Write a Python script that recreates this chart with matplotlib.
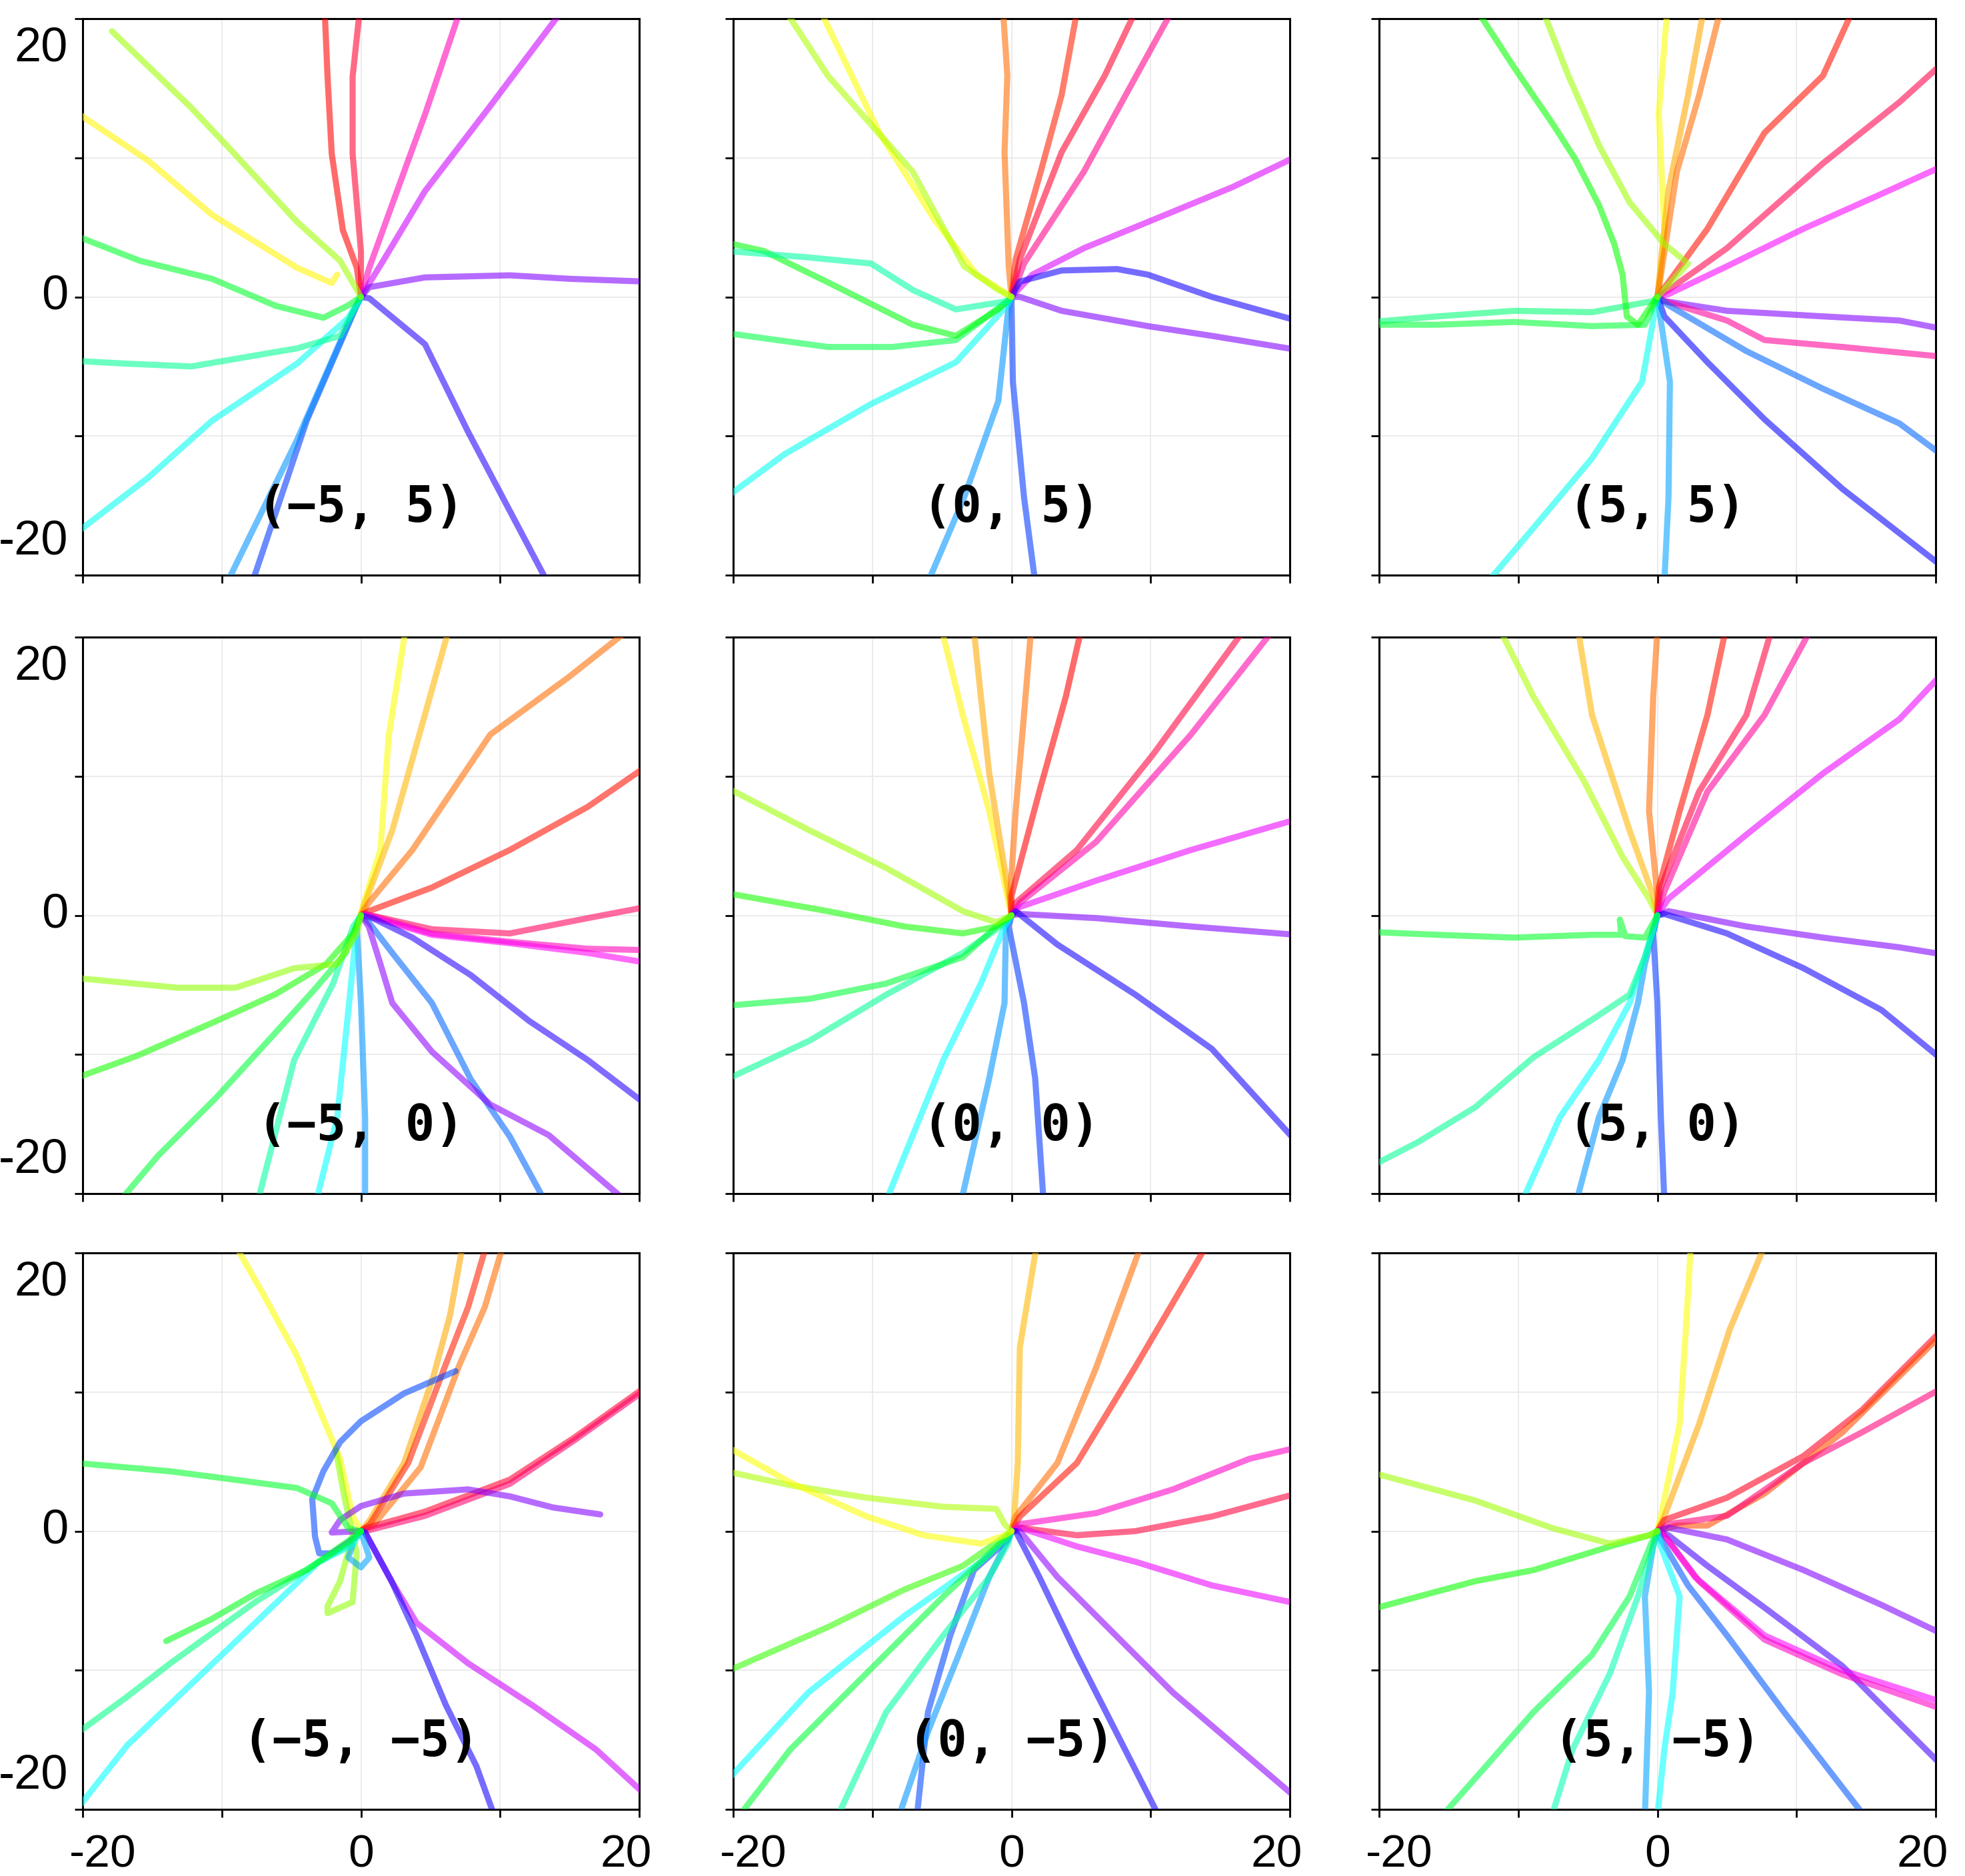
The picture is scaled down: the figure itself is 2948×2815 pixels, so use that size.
import matplotlib
matplotlib.use("Agg")
import matplotlib.pyplot as plt
from matplotlib.colors import hsv_to_rgb
from matplotlib.transforms import offset_copy

# ---------------- data (hue, [(x, y), ...]) per panel ----------------
panel_labels = ["(−5, 5)", "(0, 5)", "(5, 5)",
                "(−5, 0)", "(0, 0)", "(5, 0)",
                "(−5, −5)", "(0, −5)", "(5, −5)"]

tick_values = [-20, -10, 0, 10, 20]
x_tick_labels = ["-20", "0", "20"]
y_tick_labels = ["20", "0", "-20"]

tracks_m5_p5 = [
    (0.00, [(0, 0), (-0.3, 2.1), (-1.3, 4.8), (-2.1, 10.3), (-2.4, 15.8), (-2.6, 20.5)]),
    (0.97, [(0, 0), (0.0, 3.3), (-0.6, 10.3), (-0.6, 15.8), (-0.1, 20.5)]),
    (0.88, [(0, 0), (0.6, 2.1), (3.1, 9.0), (4.6, 13.1), (7.1, 20.5)]),
    (0.80, [(0, 0), (1.6, 2.6), (4.6, 7.6), (9.2, 13.6), (14.4, 20.5)]),
    (0.75, [(0, 0), (0.6, 0.7), (4.6, 1.4), (10.7, 1.55), (15.0, 1.3), (20.5, 1.1)]),
    (0.69, [(0, 0), (0.6, -0.1), (4.6, -3.4), (7.7, -9.7), (13.4, -20.5)]),
    (0.63, [(0, 0), (-0.3, -0.6), (-3.9, -8.9), (-7.8, -20.5)]),
    (0.57, [(0, 0), (-0.6, -1.2), (-4.6, -10.3), (-9.6, -20.5)]),
    (0.49, [(0, 0), (-0.9, -1.5), (-4.6, -4.8), (-10.7, -8.9), (-15.3, -13.0), (-20.5, -17.0)]),
    (0.43, [(0, 0), (-1.5, -2.8), (-4.6, -3.7), (-12.2, -5.0), (-16.8, -4.8), (-20.5, -4.6)]),
    (0.36, [(0, 0), (-0.9, -0.6), (-2.7, -1.5), (-6.1, -0.65), (-10.7, 1.3), (-15.9, 2.6), (-20.5, 4.4)]),
    (0.16, [(-1.7, 1.6), (-2.1, 1.0), (-4.6, 2.1), (-10.7, 5.9), (-15.3, 9.8), (-20.5, 13.3)]),
    (0.23, [(0, 0), (-1.5, 2.6), (-4.6, 5.4), (-9.1, 10.3), (-12.2, 13.6), (-17.9, 19.1)]),
]

tracks_0_p5 = [
    (0.07, [(0, 0), (-0.2, 2.2), (-0.5, 10.4), (-0.3, 15.9), (-0.6, 20.5)]),
    (0.02, [(0, 0), (0.3, 2.7), (2.1, 9.0), (3.6, 14.5), (4.7, 20.5)]),
    (0.97, [(0, 0), (0.6, 2.7), (3.6, 10.4), (6.7, 15.9), (8.9, 20.5)]),
    (0.91, [(0, 0), (0.9, 2.4), (5.2, 9.0), (8.2, 14.5), (11.5, 20.5)]),
    (0.81, [(0, 0), (1.5, 1.6), (5.2, 3.5), (11.3, 6.0), (15.9, 7.9), (20.5, 10.1)]),
    (0.68, [(0, 0), (0.6, 1.1), (3.6, 1.9), (7.6, 2.0), (9.8, 1.6), (14.4, 0.0), (20.5, -1.7)]),
    (0.75, [(0, 0), (0.6, 0.0), (3.6, -1.0), (9.8, -2.1), (14.4, -2.8), (20.5, -3.8)]),
    (0.63, [(0, 0), (0.0, -0.3), (0.1, -6.1), (0.9, -14.4), (1.7, -20.5)]),
    (0.57, [(0, 0), (-0.2, -0.6), (-0.95, -7.5), (-3.4, -14.4), (-6.0, -20.5)]),
    (0.49, [(0, 0), (-0.3, -0.6), (-4.0, -4.7), (-10.1, -7.7), (-16.3, -11.3), (-20.5, -14.4)]),
    (0.38, [(0, 0), (-0.3, -0.3), (-4.0, -3.1), (-8.6, -3.6), (-13.2, -3.6), (-20.5, -2.6)]),
    (0.34, [(0, 0), (-0.95, -0.9), (-4.0, -2.8), (-7.1, -2.0), (-13.2, 1.05), (-17.8, 3.3), (-20.5, 3.9)]),
    (0.44, [(0, 0), (-0.3, -0.3), (-4.0, -0.9), (-7.1, 0.5), (-10.1, 2.4), (-14.7, 2.85), (-20.5, 3.3)]),
    (0.17, [(0, 0), (-0.3, 0.2), (-2.5, 1.6), (-5.5, 5.5), (-9.5, 11.8), (-13.7, 20.5)]),
    (0.22, [(0, 0), (-0.95, 0.5), (-3.4, 2.2), (-7.1, 9.0), (-13.2, 15.9), (-16.2, 20.5)]),
]

tracks_p5_p5 = [
    (0.17, [(0, 0), (0.1, 0.5), (0.5, 4.9), (0.1, 13.2), (0.7, 20.5)]),
    (0.11, [(0, 0), (0.8, 7.7), (2.2, 14.5), (3.3, 20.5)]),
    (0.07, [(0, 0), (0.25, 1.6), (1.4, 9.0), (3.0, 14.5), (4.5, 20.5)]),
    (0.01, [(0, 0), (0.8, 1.05), (3.6, 4.9), (7.7, 11.8), (11.9, 15.9), (14.0, 20.5)]),
    (0.95, [(0, 0), (0.8, 0.5), (5.0, 3.5), (11.9, 9.6), (17.4, 14.0), (20.5, 16.8)]),
    (0.83, [(0, 0), (0.8, 0.2), (5.0, 2.2), (10.5, 4.9), (16.1, 7.4), (20.5, 9.4)]),
    (0.75, [(0, 0), (0.5, -0.3), (5.0, -1.0), (11.9, -1.4), (17.4, -1.7), (20.5, -2.3)]),
    (0.90, [(0, 0), (0.5, -0.3), (5.0, -1.7), (7.7, -3.1), (13.3, -3.6), (20.5, -4.3)]),
    (0.60, [(0, 0), (0.8, -0.6), (6.4, -3.9), (11.9, -6.6), (17.4, -9.1), (20.5, -11.4)]),
    (0.67, [(0, 0), (0.5, -1.4), (3.6, -4.7), (7.7, -8.8), (13.3, -13.8), (20.5, -19.4)]),
    (0.56, [(0, 0), (0.25, -1.7), (0.9, -6.1), (0.8, -14.4), (0.5, -20.5)]),
    (0.49, [(0, 0), (-0.3, -1.7), (-1.1, -6.1), (-4.7, -11.6), (-8.9, -16.6), (-12.2, -20.5)]),
    (0.41, [(0, 0), (-0.3, -0.3), (-4.7, -1.1), (-10.3, -1.0), (-15.8, -1.4), (-20.5, -1.8)]),
    (0.37, [(0, 0), (-0.9, -2.0), (-4.7, -2.1), (-10.3, -1.8), (-15.8, -2.0), (-20.5, -2.0)]),
    (0.33, [(0, 0), (-1.4, -2.0), (-2.2, -1.4), (-2.5, 1.6), (-3.1, 3.8), (-4.2, 6.6),
            (-5.9, 9.9), (-7.5, 12.4), (-10.3, 16.5), (-12.9, 20.5)]),
    (0.23, [(0, 0), (2.2, 2.4), (0.5, 3.8), (-2.0, 6.8), (-4.2, 10.9), (-6.4, 15.9), (-8.2, 20.5)]),
]

tracks_m5_0 = [
    (0.17, [(0, 0), (0.0, 0.2), (1.4, 4.7), (2.0, 12.9), (3.2, 20.5)]),
    (0.12, [(0, 0), (0.3, 0.9), (2.25, 6.1), (4.2, 13.0), (6.3, 20.5)]),
    (0.07, [(0, 0), (0.56, 0.9), (3.7, 4.7), (9.3, 13.0), (14.9, 17.1), (19.2, 20.5)]),
    (0.01, [(0, 0), (0.56, 0.3), (5.1, 2.0), (10.7, 4.7), (16.3, 7.8), (20.5, 10.7)]),
    (0.94, [(0, 0), (0.3, 0.1), (5.1, -1.0), (10.7, -1.3), (16.3, -0.2), (20.5, 0.6)]),
    (0.88, [(0, 0), (0.3, 0.1), (5.1, -1.3), (10.7, -1.9), (16.3, -2.4), (20.5, -2.5)]),
    (0.84, [(0, 0), (0.3, 0.0), (5.1, -1.4), (10.7, -2.0), (16.3, -2.7), (20.5, -3.4)]),
    (0.69, [(0, 0), (0.85, -0.2), (3.7, -1.6), (7.9, -4.3), (12.1, -7.6), (16.3, -10.4), (20.5, -13.6)]),
    (0.60, [(0, 0), (0.56, -0.5), (2.25, -2.7), (5.1, -6.3), (7.9, -11.8), (10.7, -15.9), (13.2, -20.5)]),
    (0.76, [(0, 0), (0.56, -0.8), (1.4, -3.5), (2.25, -6.3), (5.1, -9.8), (9.3, -13.6), (13.5, -15.8), (19.0, -20.5)]),
    (0.57, [(0, 0), (-0.3, -0.8), (0.0, -6.3), (0.3, -14.5), (0.3, -20.5)]),
    (0.50, [(0, 0), (-0.3, -0.8), (-0.85, -6.3), (-1.7, -14.5), (-3.2, -20.5)]),
    (0.44, [(0, 0), (-0.56, -0.8), (-2.0, -4.9), (-4.8, -10.4), (-7.4, -20.5)]),
    (0.37, [(0, 0), (-1.1, -2.7), (-3.4, -5.4), (-6.2, -8.5), (-10.4, -13.1), (-14.6, -17.3), (-17.3, -20.5)]),
    (0.32, [(0, 0), (-0.56, -1.3), (-2.5, -3.5), (-6.2, -5.7), (-10.4, -7.6), (-16.1, -10.1), (-20.5, -11.7)]),
    (0.24, [(0, 0), (-0.3, -1.3), (-1.7, -3.5), (-4.8, -3.8), (-9.0, -5.2), (-13.2, -5.2), (-20.5, -4.5)]),
]

tracks_0_0 = [
    (0.16, [(0, 0), (-0.2, 0.9), (-1.6, 7.5), (-3.5, 14.4), (-5.0, 20.5)]),
    (0.11, [(0, 0), (-0.1, 0.9), (-1.6, 10.2), (-2.2, 15.7), (-2.7, 20.5)]),
    (0.07, [(0, 0), (-0.1, 1.4), (0.3, 7.5), (0.9, 14.4), (1.4, 20.5)]),
    (0.00, [(0, 0), (0.0, 1.4), (2.0, 8.9), (3.9, 15.7), (5.0, 20.5)]),
    (0.96, [(0, 0), (0.3, 0.9), (4.7, 4.7), (10.2, 11.6), (16.7, 20.5)]),
    (0.89, [(0, 0), (0.6, 0.9), (6.1, 5.3), (12.9, 13.0), (18.8, 20.5)]),
    (0.82, [(0, 0), (0.6, 0.6), (6.1, 2.5), (12.9, 4.7), (20.5, 6.9)]),
    (0.75, [(0, 0), (0.6, 0.1), (6.1, -0.2), (12.9, -0.8), (20.5, -1.4)]),
    (0.68, [(0, 0), (0.3, 0.3), (3.3, -2.1), (8.9, -5.7), (14.4, -9.6), (20.5, -16.3)]),
    (0.63, [(0, 0), (-0.2, -0.8), (0.9, -6.3), (1.7, -11.7), (2.3, -20.5)]),
    (0.57, [(0, 0), (-0.4, -0.8), (-0.5, -6.3), (-1.6, -11.7), (-3.6, -20.5)]),
    (0.50, [(0, 0), (-0.5, -0.8), (-2.2, -4.9), (-4.9, -10.4), (-9.0, -20.5)]),
    (0.43, [(0, 0), (-0.8, -0.8), (-3.5, -2.7), (-9.0, -5.7), (-14.5, -9.0), (-20.5, -11.8)]),
    (0.37, [(0, 0), (-1.1, -0.8), (-3.5, -3.0), (-9.0, -4.9), (-14.5, -6.0), (-20.5, -6.5)]),
    (0.32, [(0, 0), (-1.1, -0.8), (-3.5, -1.3), (-7.7, -0.8), (-13.2, 0.3), (-20.5, 1.6)]),
    (0.23, [(0, 0), (-1.1, -0.5), (-3.5, 0.3), (-9.0, 3.4), (-14.5, 6.1), (-20.5, 9.2)]),
]

tracks_p5_0 = [
    (0.22, [(0, 0), (-0.6, 1.2), (-2.5, 4.2), (-5.3, 9.7), (-8.9, 15.7), (-11.3, 20.5)]),
    (0.12, [(0, 0), (-0.3, 1.4), (-2.0, 6.1), (-4.7, 14.4), (-5.7, 20.5)]),
    (0.07, [(0, 0), (0.0, 1.4), (-0.6, 7.5), (-0.3, 15.7), (0.0, 20.5)]),
    (0.01, [(0, 0), (0.1, 2.0), (1.6, 7.5), (3.6, 14.4), (4.9, 20.5)]),
    (0.96, [(0, 0), (0.25, 2.0), (3.0, 8.9), (6.4, 14.4), (8.2, 20.5)]),
    (0.90, [(0, 0), (0.5, 1.7), (3.6, 8.9), (7.7, 14.4), (11.0, 20.5)]),
    (0.82, [(0, 0), (0.8, 1.2), (6.4, 5.8), (11.9, 10.2), (17.4, 14.1), (20.5, 17.4)]),
    (0.75, [(0, 0), (0.8, 0.3), (6.4, -0.8), (11.9, -1.6), (17.4, -2.3), (20.5, -2.8)]),
    (0.68, [(0, 0), (0.5, 0.1), (5.0, -1.3), (10.5, -3.8), (16.1, -6.8), (20.5, -10.4)]),
    (0.63, [(0, 0), (-0.3, -1.3), (0.0, -6.3), (0.25, -14.5), (0.5, -20.5)]),
    (0.57, [(0, 0), (-0.9, -3.5), (-1.4, -6.3), (-2.5, -10.4), (-4.2, -14.5), (-5.8, -20.5)]),
    (0.50, [(0, 0), (-0.9, -3.0), (-2.0, -6.3), (-4.2, -10.4), (-7.0, -14.5), (-9.7, -20.5)]),
    (0.43, [(0, 0), (-0.9, -3.0), (-2.0, -5.7), (-4.7, -7.5), (-8.9, -10.2), (-13.1, -13.8),
            (-17.2, -16.3), (-20.5, -18.0)]),
    (0.36, [(0, 0), (-0.9, -1.6), (-2.3, -1.5), (-2.7, -0.3), (-2.6, -1.4), (-4.7, -1.4),
            (-10.3, -1.6), (-15.8, -1.4), (-20.5, -1.2)]),
]

tracks_m5_m5 = [
    (0.17, [(0, 0), (-0.6, 1.1), (-1.5, 5.2), (-4.6, 12.6), (-7.0, 17.0), (-9.0, 20.5)]),
    (0.24, [(-0.6, -0.4), (-1.5, -3.6), (-2.4, -5.4), (-2.4, -5.9), (-0.6, -5.1), (-0.3, -1.6),
            (-1.2, 2.5), (-1.8, 5.8)]),
    (0.11, [(0, 0), (0.65, 0.8), (3.1, 4.9), (5.2, 11.1), (6.4, 15.5), (7.3, 20.5)]),
    (0.02, [(0, 0), (0.65, 0.5), (3.4, 4.9), (6.1, 12.0), (7.7, 16.1), (9.0, 20.5)]),
    (0.07, [(0, 0), (0.95, 0.5), (4.3, 4.6), (7.1, 12.0), (8.9, 16.1), (10.2, 20.5)]),
    (0.97, [(0, 0), (0.3, 0.2), (4.6, 1.4), (10.7, 3.7), (15.3, 6.7), (20.5, 10.4)]),
    (0.93, [(0, 0), (0.3, 0.0), (4.6, 1.1), (10.7, 3.4), (15.3, 6.5), (20.5, 10.2)]),
    (0.75, [(0, 0), (-2.1, -0.1), (-1.5, 0.8), (0.0, 1.8), (3.1, 2.7), (7.7, 3.0), (10.7, 2.5),
            (13.8, 1.7), (17.2, 1.2)]),
    (0.80, [(0, 0), (0.3, -0.1), (2.2, -3.6), (4.0, -6.6), (7.7, -9.5), (12.3, -12.5), (16.9, -15.7), (20.5, -19.0)]),
    (0.68, [(0, 0), (0.3, -0.1), (2.2, -3.6), (4.0, -7.5), (6.1, -12.5), (8.3, -16.9), (9.6, -20.5)]),
    (0.62, [(0, 0), (-0.3, -0.4), (-2.1, -1.6), (-3.0, -1.6), (-3.3, -0.4), (-3.5, 2.3), (-2.7, 4.3),
            (-1.5, 6.4), (0.0, 7.9), (3.1, 9.9), (6.8, 11.5)]),
    (0.56, [(0, 0), (0.6, -1.9), (0.0, -2.6), (-0.9, -1.9), (-0.6, -1.0)]),
    (0.50, [(0, 0), (-0.6, -1.0), (-3.0, -2.2), (-7.6, -6.6), (-12.2, -11.0), (-16.8, -15.4), (-20.5, -20.1)]),
    (0.42, [(0, 0), (-0.9, -1.0), (-3.0, -2.2), (-7.6, -5.1), (-13.7, -9.5), (-16.8, -11.9), (-20.5, -14.6)]),
    (0.35, [(0, 0), (-0.9, -0.7), (-3.9, -2.8), (-7.6, -4.5), (-10.7, -6.3), (-14.0, -7.9)]),
    (0.36, [(0, 0), (-0.9, 0.2), (-2.1, 2.0), (-4.6, 3.1), (-9.1, 3.7), (-13.7, 4.3), (-20.5, 4.9)]),
]

tracks_0_m5 = [
    (0.12, [(0, 0), (0.2, 1.05), (0.45, 4.9), (0.6, 13.2), (1.8, 20.5)]),
    (0.07, [(0, 0), (0.3, 1.05), (3.3, 4.9), (6.1, 11.8), (9.3, 20.5)]),
    (0.01, [(0, 0), (0.6, 1.05), (4.7, 4.9), (8.9, 11.8), (14.0, 20.5)]),
    (0.87, [(0, 0), (0.6, 0.5), (6.1, 1.3), (11.6, 3.0), (17.1, 5.2), (20.5, 6.0)]),
    (0.96, [(0, 0), (0.6, 0.25), (4.7, -0.3), (8.9, 0.0), (14.4, 1.05), (20.5, 2.7)]),
    (0.82, [(0, 0), (0.6, 0.25), (4.7, -1.1), (8.9, -2.2), (14.4, -3.9), (20.5, -5.2)]),
    (0.76, [(0, 0), (0.6, 0.0), (3.3, -3.3), (6.1, -6.1), (11.6, -11.6), (20.5, -19.2)]),
    (0.68, [(0, 0), (0.3, 0.0), (2.0, -3.3), (4.7, -8.9), (7.5, -14.4), (10.6, -20.5)]),
    (0.62, [(0, 0), (-0.25, -0.6), (-2.7, -2.8), (-4.4, -7.5), (-6.0, -13.0), (-6.8, -20.5)]),
    (0.57, [(0, 0), (-0.25, -0.6), (-1.6, -3.3), (-3.8, -8.9), (-6.0, -14.4), (-8.1, -20.5)]),
    (0.50, [(0, 0), (-0.25, -0.3), (-2.2, -2.2), (-7.7, -6.1), (-14.6, -11.6), (-20.5, -18.0)]),
    (0.44, [(0, 0), (-0.25, -0.9), (-1.6, -3.3), (-4.9, -7.5), (-9.0, -13.0), (-12.5, -20.5)]),
    (0.37, [(0, 0), (-0.5, -0.6), (-4.9, -4.7), (-10.4, -10.2), (-15.9, -15.7), (-19.6, -20.5)]),
    (0.30, [(0, 0), (-0.8, -0.6), (-3.5, -2.5), (-7.7, -4.2), (-13.2, -6.9), (-20.5, -10.1)]),
    (0.22, [(0, 0), (-0.5, 0.5), (-1.1, 1.6), (-4.9, 1.75), (-10.4, 2.4), (-15.9, 3.3), (-20.5, 4.3)]),
    (0.17, [(0, 0), (-0.5, -0.3), (-2.2, -0.9), (-6.3, -0.3), (-10.4, 1.05), (-15.9, 3.5), (-20.5, 6.1)]),
]

tracks_p5_m5 = [
    (0.17, [(0, 0), (0.25, 1.05), (1.6, 7.7), (2.05, 14.5), (2.4, 20.5)]),
    (0.11, [(0, 0), (0.5, 1.05), (3.0, 7.7), (5.2, 14.5), (7.7, 20.5)]),
    (0.98, [(0, 0), (0.5, 0.8), (5.0, 2.4), (10.5, 5.4), (14.7, 8.7), (20.5, 14.5)]),
    (0.05, [(0, 0), (1.4, 0.4), (3.6, 0.4), (7.7, 2.7), (13.3, 7.1), (20.5, 14.2)]),
    (0.92, [(0, 0), (0.8, 0.5), (5.0, 1.1), (10.5, 4.9), (14.7, 7.1), (20.5, 10.3)]),
    (0.75, [(0, 0), (0.8, 0.25), (5.0, -0.6), (10.5, -2.8), (16.1, -5.3), (20.5, -7.4)]),
    (0.71, [(0, 0), (0.8, -0.3), (3.6, -2.5), (7.7, -5.5), (13.3, -9.7), (20.5, -16.9)]),
    (0.83, [(0, 0), (0.5, -0.3), (2.7, -3.3), (7.7, -7.5), (13.3, -10.0), (20.5, -12.3)]),
    (0.87, [(0, 0), (0.5, -0.3), (3.0, -3.6), (7.7, -7.8), (13.3, -10.3), (20.5, -12.8)]),
    (0.61, [(0, 0), (0.25, -0.6), (2.2, -3.9), (5.0, -7.5), (9.1, -13.0), (14.9, -20.5)]),
    (0.50, [(0, 0), (0.25, -1.1), (1.6, -4.7), (1.1, -11.6), (0.5, -15.7), (0.0, -20.5)]),
    (0.56, [(0, 0), (-0.3, -1.1), (-0.9, -4.7), (-0.6, -11.6), (-0.9, -20.5)]),
    (0.45, [(0, 0), (-0.3, -1.1), (-1.4, -4.7), (-3.4, -10.2), (-6.1, -15.7), (-7.6, -20.5)]),
    (0.38, [(0, 0), (-0.45, -0.9), (-2.0, -4.7), (-4.7, -8.9), (-8.9, -13.0), (-12.5, -17.1), (-15.5, -20.5)]),
    (0.33, [(0, 0), (-0.6, -0.3), (-3.4, -1.1), (-8.9, -2.8), (-13.1, -3.6), (-20.5, -5.6)]),
    (0.23, [(0, 0), (-0.6, -0.3), (-3.4, -0.9), (-7.5, 0.2), (-13.1, 2.2), (-20.5, 4.2)]),
]

panel_tracks = [tracks_m5_p5, tracks_0_p5, tracks_p5_p5,
                tracks_m5_0, tracks_0_0, tracks_p5_0,
                tracks_m5_m5, tracks_0_m5, tracks_p5_m5]

# ---------------- layout ----------------
W, H = 2948, 2815
DPI = 100
fig = plt.figure(figsize=(W / DPI, H / DPI), dpi=DPI)
fig.patch.set_facecolor("white")

col_left = [124, 1100, 2069]
row_top = [28, 956, 1880]
size = 835
PX = 72.0 / DPI  # points per pixel

tick_font = ["Liberation Sans", "DejaVu Sans"]

for i, (label, tracks) in enumerate(zip(panel_labels, panel_tracks)):
    r, c = divmod(i, 3)
    ax = fig.add_axes([col_left[c] / W, 1 - (row_top[r] + size) / H, size / W, size / H])
    for hue, pts in tracks:
        xs = [p[0] for p in pts]
        ys = [p[1] for p in pts]
        ax.plot(xs, ys, color=hsv_to_rgb((hue, 1.0, 1.0)), alpha=0.58, lw=6.6,
                solid_capstyle="round", solid_joinstyle="round", zorder=3)
    ax.set_xlim(-20, 20)
    ax.set_ylim(-20, 20)
    ax.set_xticks(tick_values)
    ax.set_yticks(tick_values)
    ax.set_xticklabels([])
    ax.set_yticklabels([])
    ax.tick_params(direction="out", length=8.5, width=2.0, colors="black")
    ax.grid(True, color="#e9e9e9", lw=1.3)
    ax.set_axisbelow(True)
    for sp in ax.spines.values():
        sp.set_linewidth(2.2)
        sp.set_color("black")
    ax.text(0, -15.2, label, ha="center", va="center", family="DejaVu Sans Mono",
            weight="bold", fontsize=53, zorder=5)

    if c == 0:
        for val, txt, dy in zip([20, 0, -20], y_tick_labels, [-45, 0, 50]):
            tr = offset_copy(ax.get_yaxis_transform(), fig=fig, x=-22 * PX, y=dy * PX, units="points")
            ax.text(0, val, txt, transform=tr, ha="right", va="center",
                    family=tick_font, fontsize=52, clip_on=False)
    if r == 2:
        for val, txt, dx in zip([-20, 0, 20], x_tick_labels, [30, 0, -20]):
            tr = offset_copy(ax.get_xaxis_transform(), fig=fig, x=dx * PX, y=-68 * PX, units="points")
            ax.text(val, 0, txt, transform=tr, ha="center", va="center",
                    family=tick_font, fontsize=50, clip_on=False)

fig.savefig("out.png", dpi=DPI, facecolor="white")
